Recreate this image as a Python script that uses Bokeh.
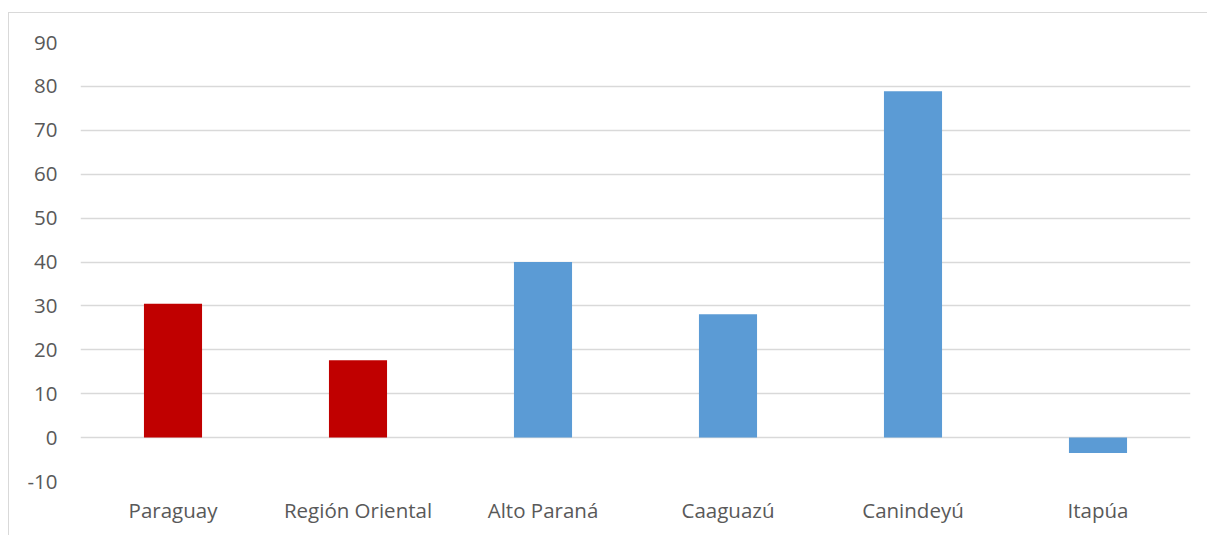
from bokeh.plotting import figure
from bokeh.models import Range1d, SingleIntervalTicker, ColumnDataSource, PrintfTickFormatter
from bokeh.transform import factor_cmap
from bokeh.embed import file_html
from bokeh.resources import INLINE

categories = ["Paraguay", "Región Oriental", "Alto Paraná", "Caaguazú", "Canindeyú", "Itapúa"]
values = [30.5, 17.6, 40.0, 28.1, 78.9, -3.5]
groups = ["país/región", "país/región", "departamento", "departamento", "departamento", "departamento"]

src = ColumnDataSource(data=dict(cat=categories, val=values, grp=groups))

p = figure(x_range=categories, width=1199, height=523, output_backend="svg",
           toolbar_location=None, min_border_left=71, min_border_right=18,
           min_border_top=29, min_border_bottom=55)
p.margin = (12, 0, 0, 8)
p.styles = {"border-left": "1px solid #d9d9d9", "border-top": "1px solid #d9d9d9"}
p.y_range = Range1d(-10, 90)

p.vbar(x="cat", top="val", bottom=0, width=0.314, source=src,
       fill_color=factor_cmap("grp", palette=["#C00000", "#5B9BD5"],
                              factors=["país/región", "departamento"]),
       line_color=None)

p.outline_line_color = None
p.background_fill_color = "white"
p.border_fill_color = "white"

p.xgrid.grid_line_color = None
p.ygrid.grid_line_color = "#d9d9d9"
p.ygrid.grid_line_width = 1.5

p.yaxis.ticker = SingleIntervalTicker(interval=10)
p.yaxis.formatter = PrintfTickFormatter(format="%d")
for ax in (p.xaxis[0], p.yaxis[0]):
    ax.axis_line_color = None
    ax.major_tick_line_color = None
    ax.minor_tick_line_color = None
    ax.major_tick_out = 0
    ax.major_tick_in = 0
    ax.minor_tick_out = 0
    ax.minor_tick_in = 0
    ax.major_label_text_font = "Open Sans"
    ax.major_label_text_font_size = "20.5px"
    ax.major_label_text_color = "#595959"
p.yaxis.major_label_standoff = 23
p.xaxis.major_label_standoff = 14

open("out.html", "w").write(file_html(p, INLINE))
